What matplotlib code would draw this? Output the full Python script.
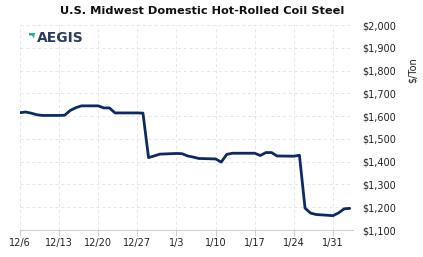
import datetime as dt
import matplotlib
matplotlib.use("Agg")
import matplotlib.pyplot as plt
import matplotlib.dates as mdates
from matplotlib.ticker import FuncFormatter, MultipleLocator
from matplotlib.patches import Polygon

# business-day prices, $/ton
dates = ["2021-12-06", "2021-12-07", "2021-12-08", "2021-12-09", "2021-12-10",
         "2021-12-13", "2021-12-14", "2021-12-15", "2021-12-16", "2021-12-17",
         "2021-12-20", "2021-12-21", "2021-12-22", "2021-12-23",
         "2021-12-27", "2021-12-28", "2021-12-29", "2021-12-30", "2021-12-31",
         "2022-01-03", "2022-01-04", "2022-01-05", "2022-01-06", "2022-01-07",
         "2022-01-10", "2022-01-11", "2022-01-12", "2022-01-13", "2022-01-14",
         "2022-01-17", "2022-01-18", "2022-01-19", "2022-01-20", "2022-01-21",
         "2022-01-24", "2022-01-25", "2022-01-26", "2022-01-27", "2022-01-28",
         "2022-01-31", "2022-02-01", "2022-02-02", "2022-02-03"]
prices = [1615, 1618, 1613, 1606, 1603,
          1603, 1604, 1625, 1637, 1645,
          1645, 1636, 1636, 1614,
          1614, 1613, 1418, 1425, 1433,
          1436, 1435, 1425, 1420, 1414,
          1412, 1398, 1432, 1437, 1437,
          1437, 1427, 1440, 1440, 1425,
          1424, 1428, 1196, 1174, 1168,
          1163, 1175, 1193, 1195]

title = "U.S. Midwest Domestic Hot-Rolled Coil Steel"
unit = "$/Ton"

x = [dt.datetime.strptime(d, "%Y-%m-%d") for d in dates]

W, H = 423, 257
fig = plt.figure(figsize=(W / 100, H / 100), dpi=100)
fig.patch.set_facecolor("white")
ax = fig.add_axes([20 / W, 1 - 230 / H, 333 / W, 205 / H])

ax.plot(x, prices, color="#0c2a66", lw=2.0, solid_joinstyle="round",
        solid_capstyle="round", zorder=3)

ax.set_ylim(1100, 2000)
ax.set_xlim(x[0], x[-1] + dt.timedelta(hours=14))
ax.yaxis.set_major_locator(MultipleLocator(100))
ax.yaxis.set_major_formatter(FuncFormatter(lambda v, p: f"${v:,.0f}"))
ax.yaxis.tick_right()

ax.xaxis.set_major_locator(mdates.WeekdayLocator(byweekday=mdates.MO))
ax.xaxis.set_major_formatter(FuncFormatter(
    lambda v, p: f"{mdates.num2date(v).month}/{mdates.num2date(v).day}"))

ax.grid(True, color="#e6e6e6", ls=(0, (3, 3)), lw=0.7)
for s in ["top", "left", "right"]:
    ax.spines[s].set_visible(False)
ax.spines["bottom"].set_color("#d0d0d0")
ax.tick_params(axis="x", colors="#d0d0d0", labelcolor="#222222",
               labelsize=7, length=4, pad=2)
ax.tick_params(axis="y", length=0, labelcolor="#222222", labelsize=7, pad=7)

fig.text(202 / W, 1 - 11 / H, title, ha="center", va="center",
         fontsize=8.2, fontweight="bold", color="#111111")
fig.text(413 / W, 1 - 70 / H, unit, ha="center", va="center",
         rotation=90, fontsize=7, color="#222222")

# logo
fig.text(36.5 / W, 1 - 38.5 / H, "AEGIS", ha="left", va="center",
         fontsize=10, fontweight="bold", color="#2a3d63")
fig.add_artist(Polygon([(29 / W, 1 - 33 / H), (35 / W, 1 - 33 / H),
                        (34 / W, 1 - 38.5 / H), (32 / W, 1 - 35.5 / H),
                        (29 / W, 1 - 35.5 / H)],
                       closed=True, transform=fig.transFigure,
                       color="#1fb58a", lw=0))

fig.savefig("out.png", dpi=100, facecolor="white")
